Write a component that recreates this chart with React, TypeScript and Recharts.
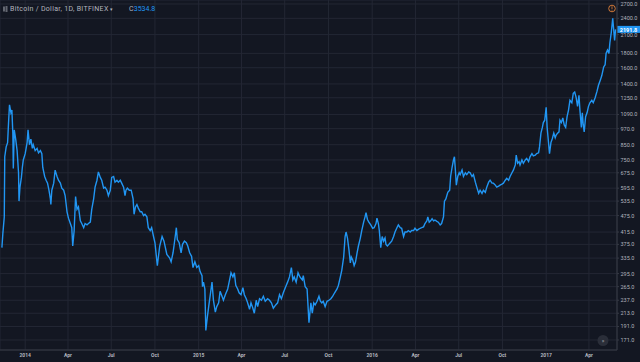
import React from 'react';
import { LineChart, Line, XAxis, YAxis, CartesianGrid, ReferenceLine } from 'recharts';

// days since 1 Jan 2014 (Bitfinex daily closes)
const days = [
  -49, -47, -44, -43, -40, -37, -35, -33, -30, -28,
  -26, -25, -23, -20, -17, -14, -13, -11, -8, -6,
  -4, 0, 4, 6, 9, 12, 15, 17, 21, 25,
  28, 32, 35, 37, 41, 44, 47, 50, 53, 54,
  56, 60, 63, 67, 70, 74, 77, 81, 84, 88,
  91, 95, 98, 100, 103, 106, 109, 112, 116, 119,
  123, 126, 130, 133, 137, 140, 144, 147, 151, 154,
  158, 161, 165, 168, 172, 175, 179, 182, 186, 189,
  193, 196, 200, 203, 207, 210, 212, 215, 219, 223,
  227, 229, 232, 235, 238, 242, 245, 249, 252, 256,
  259, 263, 266, 270, 273, 278, 283, 288, 292, 298,
  304, 307, 311, 313, 318, 320, 324, 328, 331, 335,
  339, 342, 346, 350, 353, 357, 361, 365, 368, 372,
  373, 375, 378, 380, 383, 386, 389, 393, 396, 400,
  403, 407, 410, 414, 417, 421, 426, 430, 433, 437,
  440, 443, 447, 450, 454, 458, 461, 465, 468, 472,
  475, 479, 482, 486, 489, 493, 497, 501, 505, 510,
  514, 518, 522, 527, 531, 535, 539, 543, 548, 552,
  556, 560, 563, 566, 570, 574, 578, 583, 585, 589,
  593, 597, 601, 604, 607, 610, 614, 618, 621, 624,
  627, 631, 635, 639, 643, 647, 651, 656, 659, 663,
  666, 670, 673, 675, 678, 681, 684, 686, 689, 692,
  695, 698, 701, 705, 708, 712, 715, 717, 720, 723,
  727, 731, 734, 738, 740, 743, 745, 748, 751, 754,
  757, 759, 762, 765, 768, 771, 775, 778, 782, 785,
  789, 792, 796, 799, 803, 806, 810, 813, 817, 820,
  824, 827, 831, 834, 838, 841, 845, 847, 850, 853,
  856, 859, 862, 866, 869, 873, 876, 880, 882, 885,
  889, 893, 895, 898, 901, 903, 905, 907, 910, 913,
  915, 919, 922, 926, 929, 933, 936, 940, 943, 947,
  950, 954, 957, 961, 964, 968, 971, 975, 978, 982,
  985, 989, 992, 996, 999, 1003, 1006, 1010, 1013, 1017,
  1020, 1024, 1027, 1031, 1033, 1036, 1039, 1041, 1045, 1048,
  1052, 1055, 1059, 1062, 1066, 1069, 1073, 1076, 1080, 1082,
  1085, 1088, 1090, 1093, 1096, 1098, 1100, 1103, 1106, 1109,
  1112, 1115, 1117, 1120, 1123, 1125, 1128, 1131, 1134, 1137,
  1140, 1143, 1146, 1150, 1153, 1156, 1159, 1162, 1165, 1167,
  1170, 1172, 1174, 1176, 1179, 1182, 1185, 1188, 1192, 1195,
  1199, 1203, 1206, 1210, 1213, 1217, 1220, 1222, 1225, 1228,
  1230, 1233, 1236, 1238, 1240, 1242,
];

const prices = [
  365, 410, 470, 770, 835, 865, 1020, 1180, 1105, 1130,
  935, 700, 960, 890, 810, 675, 535, 600, 650, 705,
  750, 790, 865, 960, 850, 890, 825, 850, 810, 825,
  795, 810, 790, 705, 655, 635, 620, 585, 545, 520,
  585, 620, 690, 655, 635, 620, 595, 585, 560, 490,
  465, 445, 430, 370, 420, 555, 500, 510, 455, 445,
  430, 445, 440, 445, 450, 500, 545, 600, 635, 680,
  650, 635, 595, 600, 585, 560, 585, 650, 655, 625,
  635, 625, 635, 620, 600, 560, 585, 595, 585, 585,
  545, 480, 510, 520, 505, 490, 490, 475, 480, 470,
  430, 420, 430, 400, 380, 315, 370, 400, 385, 345,
  335, 325, 350, 370, 430, 390, 380, 350, 375, 385,
  380, 370, 350, 340, 310, 325, 310, 315, 300, 290,
  265, 275, 260, 185, 205, 225, 245, 275, 237, 215,
  225, 232, 255, 245, 237, 248, 260, 280, 297, 287,
  297, 268, 260, 252, 248, 263, 248, 240, 232, 220,
  232, 222, 213, 237, 225, 240, 237, 245, 235, 240,
  237, 232, 222, 228, 232, 248, 240, 252, 265, 275,
  287, 310, 280, 287, 275, 297, 287, 280, 290, 265,
  260, 197, 232, 213, 232, 228, 235, 245, 235, 232,
  235, 225, 235, 237, 240, 245, 252, 260, 268, 287,
  303, 338, 400, 415, 395, 360, 322, 338, 330, 315,
  325, 348, 370, 395, 420, 450, 470, 487, 460, 450,
  440, 428, 430, 445, 465, 445, 420, 365, 400, 385,
  395, 375, 370, 375, 380, 385, 400, 415, 430, 440,
  430, 428, 400, 415, 415, 420, 415, 420, 420, 428,
  420, 424, 428, 430, 433, 445, 455, 470, 450, 455,
  463, 455, 458, 453, 450, 440, 445, 470, 535, 545,
  575, 585, 655, 705, 750, 770, 690, 610, 655, 675,
  665, 690, 655, 675, 665, 680, 675, 655, 665, 625,
  600, 570, 585, 570, 585, 575, 600, 625, 635, 620,
  620, 610, 600, 605, 610, 615, 620, 635, 645, 635,
  655, 675, 690, 720, 780, 730, 740, 720, 750, 730,
  750, 760, 740, 770, 790, 775, 780, 790, 795, 835,
  935, 980, 1020, 1040, 1155, 980, 900, 790, 865, 895,
  935, 900, 920, 935, 945, 1040, 1020, 1060, 1000, 980,
  1070, 1130, 1225, 1200, 1295, 1310, 1255, 1165, 1275, 1130,
  980, 1105, 1000, 945, 1070, 1105, 1165, 1200, 1225, 1200,
  1250, 1320, 1385, 1445, 1500, 1610, 1640, 1800, 1850, 1800,
  1960, 2140, 2400, 2190, 2000, 2191.8,
];

const priceTicks = [
  171, 191, 213, 237, 265, 295, 335, 375, 415, 475, 535, 595,
  675, 750, 850, 970, 1090, 1250, 1400, 1600, 1800, 2100, 2400, 2700,
];

// quarter starts, days since 1 Jan 2014
const quarterTicks = [0, 90, 181, 273, 365, 455, 546, 638, 730, 821, 912, 1004, 1096, 1186];
const quarterLabels = ['2014', 'Apr', 'Jul', 'Oct', '2015', 'Apr', 'Jul', 'Oct', '2016', 'Apr', 'Jul', 'Oct', '2017', 'Apr'];

const lastPrice = 2191.8;

const data = days.map((d, i) => ({ day: d, price: prices[i] }));

const BG = '#131722';
const GRID = '#232734';
const BORDER = '#363a45';
const TEXT = '#b2b5be';
const BLUE = '#2196f3';

const PriceTag = (props: any) => {
  const vb = props.viewBox;
  if (!vb) return null;
  const x = vb.x + vb.width;
  const y = vb.y;
  return (
    <g>
      <rect x={x} y={y - 3.5} width={23} height={7} fill={BLUE} />
      <text x={x + 11.5} y={y + 0.3} fill="#ffffff" fontSize={5.5} fontWeight={700} textAnchor="middle" dominantBaseline="central">
        {lastPrice.toFixed(1)}
      </text>
    </g>
  );
};

const App: React.FC = () => {
  const labelFor = (v: number) => {
    const i = quarterTicks.indexOf(v);
    return i >= 0 ? quarterLabels[i] : '';
  };

  return (
    <div style={{ position: 'absolute', left: 0, top: 0, width: 640, height: 362, background: BG, overflow: 'hidden', fontFamily: 'Roboto, "Liberation Sans", Arial, sans-serif' }}>
      <LineChart width={640} height={362} data={data} margin={{ top: 0, right: 0, left: 0, bottom: 0 }}>
        <CartesianGrid stroke={GRID} strokeWidth={1} />
        <XAxis
          dataKey="day"
          type="number"
          domain={[-53, 1245]}
          allowDataOverflow
          ticks={quarterTicks}
          tickFormatter={labelFor}
          height={12}
          tick={{ fill: TEXT, fontSize: 5, fontWeight: 700 }}
          tickLine={false}
          tickSize={0}
          tickMargin={3.5}
          axisLine={{ stroke: BORDER }}
          interval={0}
        />
        <YAxis
          orientation="right"
          scale="log"
          domain={[157.5, 2790]}
          allowDataOverflow
          ticks={priceTicks}
          tickFormatter={(v: number) => v.toFixed(1)}
          width={23}
          tick={{ fill: TEXT, fontSize: 5.5 }}
          tickSize={2}
          tickMargin={1.5}
          tickLine={{ stroke: BORDER }}
          axisLine={{ stroke: BORDER }}
          interval={0}
        />
        <Line type="linear" dataKey="price" stroke={BLUE} strokeWidth={1.4} dot={false} activeDot={false} isAnimationActive={false} />
        <ReferenceLine y={lastPrice} stroke="none" label={<PriceTag />} ifOverflow="visible" />
      </LineChart>

      {/* header */}
      <div style={{ position: 'absolute', left: 3, top: 5, height: 8, display: 'flex', alignItems: 'center', fontSize: 7, letterSpacing: 0.3, color: TEXT, whiteSpace: 'nowrap' }}>
        <svg width={5} height={6} style={{ marginRight: 2 }}>
          <rect x={0.5} y={0.5} width={1} height={5} fill={TEXT} />
          <rect x={2.5} y={0.5} width={2} height={1} fill={TEXT} />
          <rect x={2.5} y={2.5} width={2} height={1} fill={TEXT} />
          <rect x={2.5} y={4.5} width={2} height={1} fill={TEXT} />
        </svg>
        <span>Bitcoin / Dollar, 1D, BITFINEX</span>
        <span style={{ fontSize: 5, marginLeft: 1 }}>▾</span>
        <span style={{ marginLeft: 16 }}>C</span>
        <span style={{ color: BLUE, letterSpacing: 0 }}>3534.8</span>
      </div>

      {/* decorations */}
      <svg width={640} height={362} style={{ position: 'absolute', left: 0, top: 0, pointerEvents: 'none' }}>
        <circle cx={612} cy={8.5} r={3.3} fill="none" stroke="#e0803a" strokeWidth={0.9} />
        <rect x={611.6} y={6.3} width={0.8} height={2.8} fill="#e0803a" />
        <rect x={611.6} y={9.8} width={0.8} height={0.8} fill="#e0803a" />
        <circle cx={603} cy={340.5} r={5.5} fill="#2a2e39" />
        <text x={603} y={340.8} fill={TEXT} fontSize={5.5} textAnchor="middle" dominantBaseline="central">»</text>
      </svg>
    </div>
  );
};

export default App;
